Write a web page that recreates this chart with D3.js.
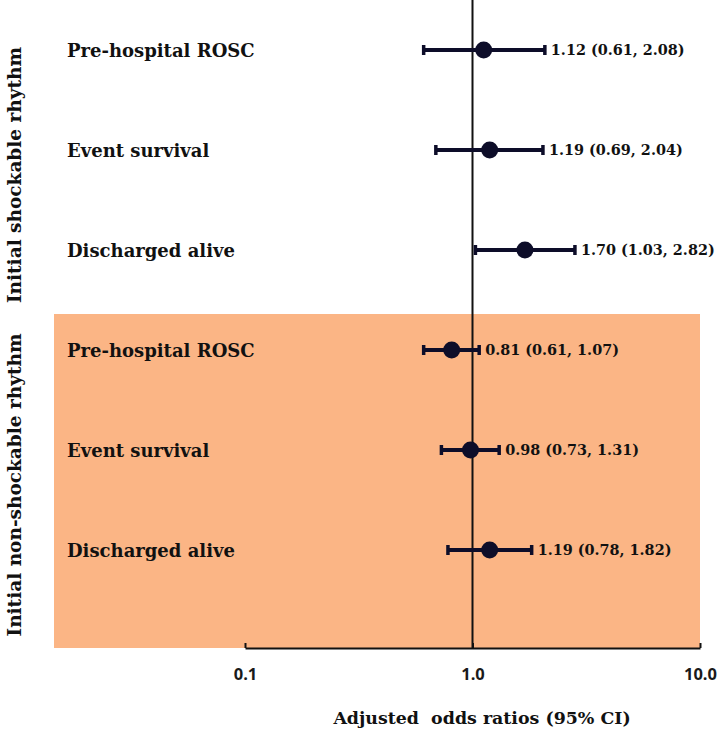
<!DOCTYPE html>
<html><head><meta charset="utf-8">
<script src="https://cdn.jsdelivr.net/npm/d3@7"></script>
<style>body{margin:0;background:#fff}svg{display:block}</style>
</head><body>
<svg id="c" width="721" height="735"></svg>
<script>
const groups = ["Initial shockable rhythm", "Initial non-shockable rhythm"];
const outcomes = ["Pre-hospital ROSC", "Event survival", "Discharged alive"];
const groupOf = [0, 0, 0, 1, 1, 1];
const outcomeOf = [0, 1, 2, 0, 1, 2];
const orValues = [1.12, 1.19, 1.70, 0.81, 0.98, 1.19];
const lowerCI = [0.61, 0.69, 1.03, 0.61, 0.73, 0.78];
const upperCI = [2.08, 2.04, 2.82, 1.07, 1.31, 1.82];
const tickValues = [0.1, 1, 10];
const tickLabels = ["0.1", "1.0", "10.0"];
const xTitle = "Adjusted  odds ratios (95% CI)";

const svg = d3.select("#c");
const ink = "#0d0d29";
const serif = "'DejaVu Serif', serif";
const rows = d3.range(orValues.length);
const x = d3.scaleLog().domain([0.1, 10]).range([245, 700]);
const y = d3.scaleBand().domain(rows).range([0, 600]);
const axisY = 648;

// shaded background for non-shockable group
const g1 = rows.filter(i => groupOf[i] === 1);
const shadeTop = y(g1[0]) + 14;
svg.append("rect")
  .attr("x", 54).attr("y", shadeTop)
  .attr("width", x(10) - 54).attr("height", axisY - shadeTop)
  .attr("fill", "#fbb585");

// reference line at 1
svg.append("line").attr("x1", x(1)).attr("x2", x(1)).attr("y1", 0).attr("y2", axisY)
  .attr("stroke", "#111").attr("stroke-width", 2);

// x axis
const ax = svg.append("g").attr("transform", `translate(0,${axisY})`)
  .call(d3.axisBottom(x).tickValues(tickValues).tickFormat((d, i) => tickLabels[i]).tickSizeInner(-5).tickSizeOuter(0).tickPadding(20));
ax.select(".domain").attr("stroke", "#111").attr("stroke-width", 2);
ax.selectAll(".tick line").attr("stroke", "#111").attr("stroke-width", 2);
ax.selectAll(".tick text").attr("font-family", "'Open Sans', sans-serif").attr("font-weight", "bold")
  .attr("font-size", 16.5).attr("fill", "#1a1a1a");

svg.append("text").attr("x", 482).attr("y", 724).attr("text-anchor", "middle")
  .attr("font-family", serif).attr("font-weight", "bold").attr("font-size", 17.4).attr("fill", "#111")
  .attr("xml:space", "preserve").style("white-space", "pre").text(xTitle);

// group labels (rotated)
const gCenters = [175, 485];
groups.forEach((g, gi) => {
  svg.append("text").attr("transform", `translate(21,${gCenters[gi]}) rotate(-90)`)
    .attr("text-anchor", "middle").attr("font-family", serif).attr("font-weight", "bold")
    .attr("font-size", 18.5).attr("fill", "#111").text(g);
});

// outcome labels
rows.forEach(i => {
  svg.append("text").attr("x", 67).attr("y", y(i) + y.bandwidth() / 2 + 7)
    .attr("font-family", serif).attr("font-weight", "bold").attr("font-size", 18).attr("fill", "#111")
    .text(outcomes[outcomeOf[i]]);
});

// CI lines, caps, points, value labels
const cy = i => y(i) + y.bandwidth() / 2;
rows.forEach(i => {
  const gg = svg.append("g");
  gg.append("line").attr("x1", x(lowerCI[i])).attr("x2", x(upperCI[i])).attr("y1", cy(i)).attr("y2", cy(i))
    .attr("stroke", ink).attr("stroke-width", 4);
  [lowerCI[i], upperCI[i]].forEach(v => {
    gg.append("line").attr("x1", x(v)).attr("x2", x(v)).attr("y1", cy(i) - 5).attr("y2", cy(i) + 5)
      .attr("stroke", ink).attr("stroke-width", 3.5);
  });
  gg.append("circle").attr("cx", x(orValues[i])).attr("cy", cy(i)).attr("r", 8.5).attr("fill", ink);
  gg.append("text").attr("x", x(upperCI[i]) + 6).attr("y", cy(i) + 5)
    .attr("font-family", serif).attr("font-weight", "bold").attr("font-size", 14.4).attr("fill", "#111")
    .text(`${orValues[i].toFixed(2)} (${lowerCI[i].toFixed(2)}, ${upperCI[i].toFixed(2)})`);
});
</script>
</body></html>
